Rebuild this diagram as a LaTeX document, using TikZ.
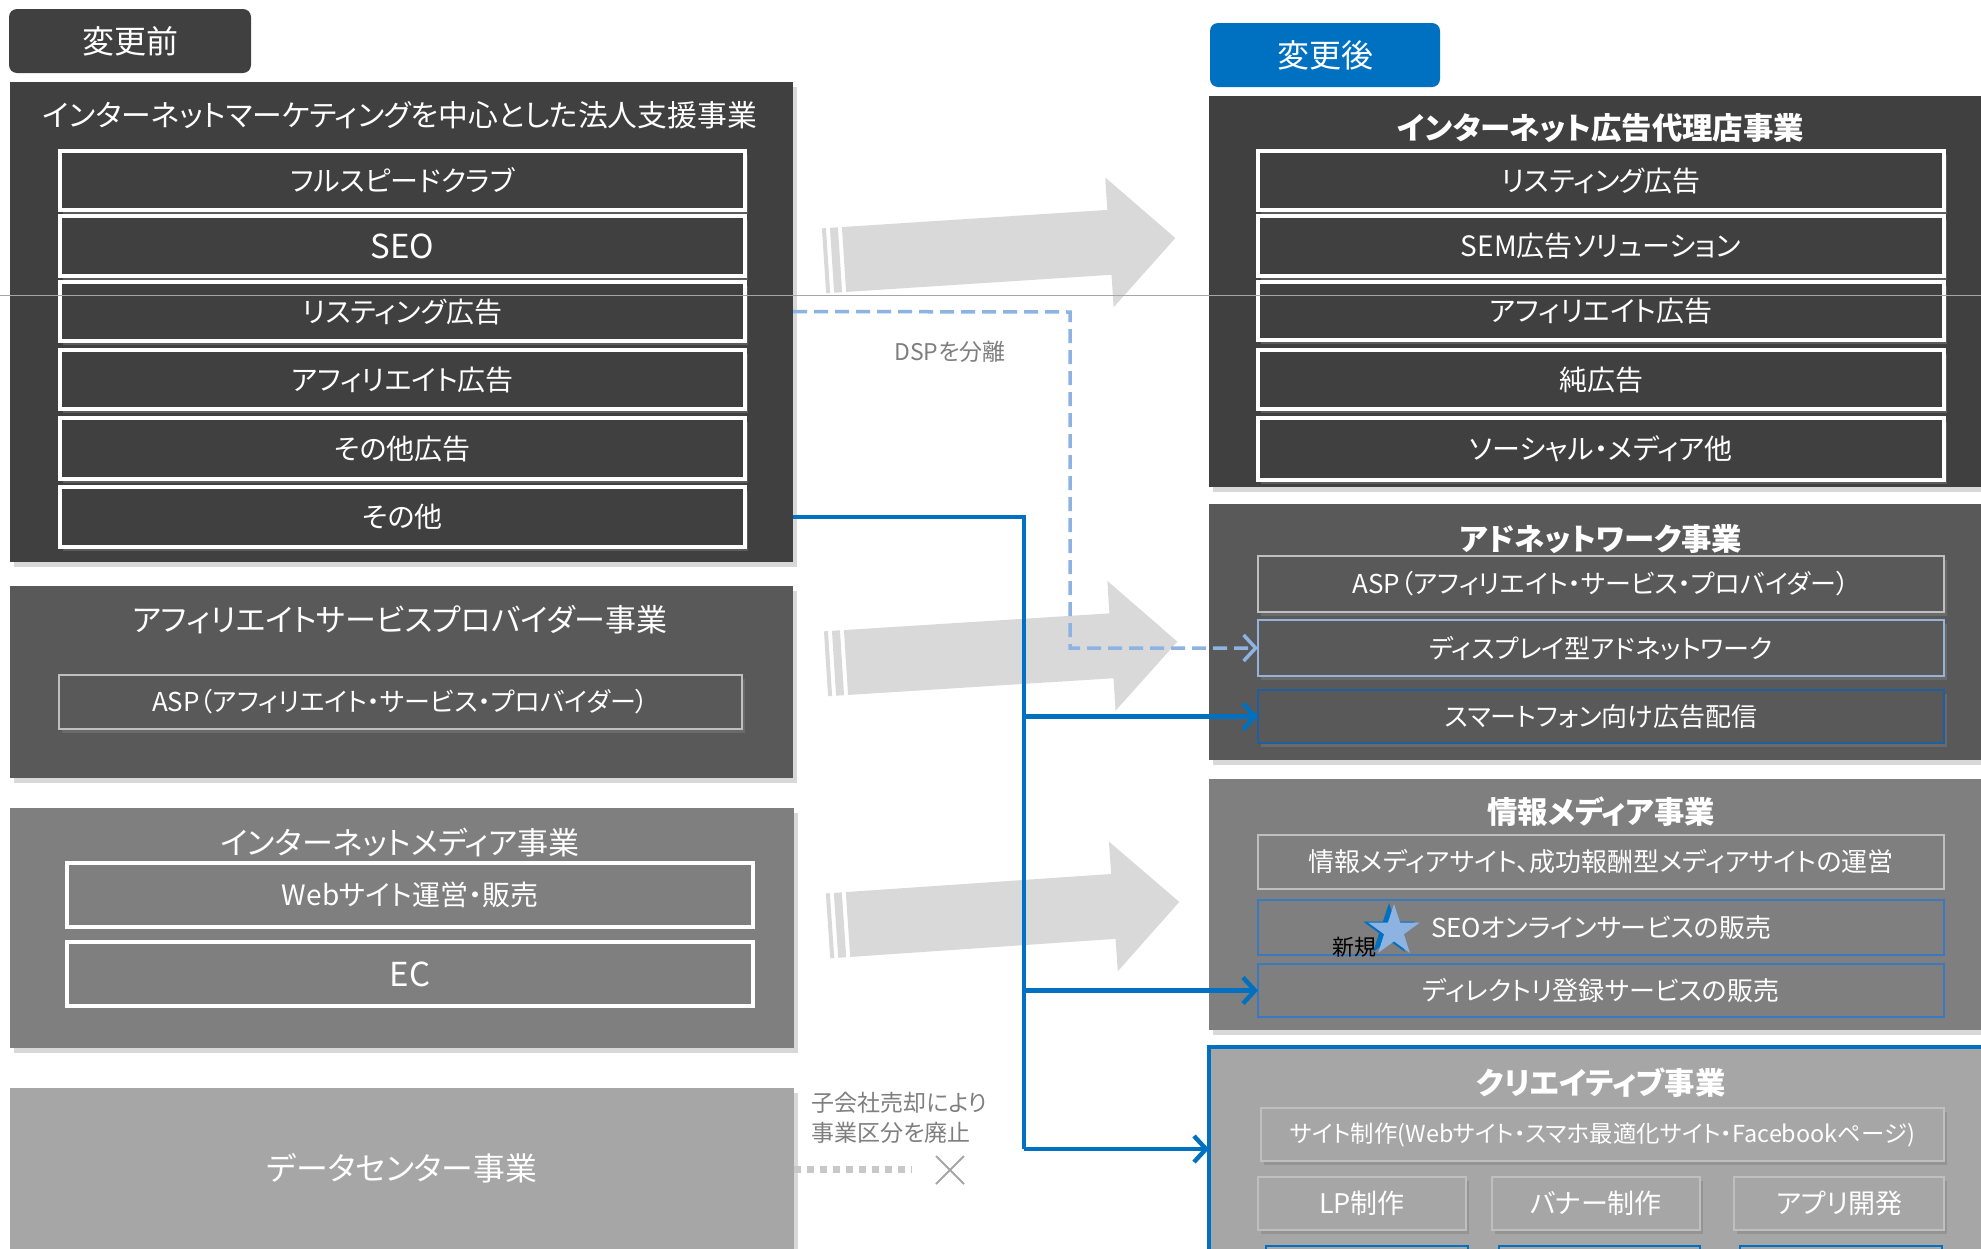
\documentclass[tikz,border=0pt]{standalone}
\usepackage{fontspec}
\setmainfont{Noto Sans CJK JP}[RawFeature={+palt}]
\usetikzlibrary{arrows.meta,shapes.geometric,shapes.misc,shadows,calc}
\definecolor{cfour}{HTML}{404040}
\definecolor{cfive}{HTML}{595959}
\definecolor{cseven}{HTML}{7F7F7F}
\definecolor{ca}{HTML}{A6A6A6}
\definecolor{carrow}{HTML}{D9D9D9}
\definecolor{cblue}{HTML}{0070C0}
\definecolor{clblue}{HTML}{8DB3E2}
\definecolor{cnote}{HTML}{7F7F7F}
\definecolor{cedge}{HTML}{BFBFBF}
\definecolor{cdisp}{HTML}{95B3D7}
\definecolor{csmart}{HTML}{1F5F9F}
\definecolor{cseo}{HTML}{3A78C0}
\definecolor{cdot}{HTML}{C8C8C8}
\newcommand\fsub{\fontsize{14}{16}\selectfont}
\newcommand\fsubs{\fontsize{13}{15}\selectfont}
\newcommand\ftitle{\fontsize{15.5}{18}\selectfont}
\newcommand\fbtitle{\fontsize{15.2}{18}\selectfont\bfseries}
\newcommand\fhead{\fontsize{16}{18}\selectfont}
\newcommand\fnote{\fontsize{11.5}{15}\selectfont}
\newcommand\flatinbox{\fontsize{16.5}{18}\selectfont}
\newcommand\mkbox[7]{%
  \pgfmathsetmacro\mkbw{(#4-#2)*0.5}%
  \pgfmathsetmacro\mkbh{(#5-#3)*0.5}%
  \node[#6, minimum width=\mkbw pt, minimum height=\mkbh pt] (#1) at ({(#2+#4)/2},{(#3+#5)/2}) {#7};}
\newcommand\bigarrow[3]{%
  \begin{scope}[shift={(#1,#2)}, rotate=#3]
    \fill[carrow] (0,-32.5) -- (266,-32.5) -- (266,-65) -- (332,0) -- (266,65) -- (266,32.5) -- (0,32.5) -- cycle;
    \fill[carrow] (-20,-32.5) rectangle (-16,32.5);
    \fill[carrow] (-12,-32.5) rectangle (-4,32.5);
  \end{scope}}
\tikzset{
  bigbox/.style={draw=none, fill=#1, inner sep=0pt, outer sep=0pt,
    drop shadow={shadow xshift=2pt, shadow yshift=-2.5pt, opacity=0.3}},
  wsub/.style={draw=white, line width=1.8pt, fill=#1, text=white, font=\fsub, inner sep=0pt, outer sep=0pt,
    drop shadow={shadow xshift=1.5pt, shadow yshift=-2pt, opacity=0.45}},
  gsub/.style 2 args={draw=#2, line width=0.8pt, fill=#1, text=white, font=\fsub, inner sep=0pt, outer sep=0pt,
    drop shadow={shadow xshift=1.5pt, shadow yshift=-2pt, opacity=0.45}},
  headbox/.style={fill=#1, rounded corners=4pt, text=white, font=\fhead, inner sep=0pt},
  ttl/.style={text=white, font=\ftitle, inner sep=0pt},
  bttl/.style={text=white, font=\fbtitle, inner sep=0pt},
  note/.style={text=cnote, font=\fnote, inner sep=0pt},
  dspline/.style={draw=clblue, line width=1.75pt, dash pattern=on 7pt off 3.5pt,
    -{Straight Barb[length=6pt,width=13pt,line width=1.75pt]}},
  blueline/.style={draw=cblue, line width=2.2pt},
  bluearrow/.style={draw=cblue, line width=2.2pt, -{Straight Barb[length=6pt,width=13pt]}},
  dcdash/.style={draw=cdot, line width=3.5pt, dash pattern=on 3.5pt off 3pt},
}
\begin{document}
\begin{tikzpicture}[x=0.5pt,y=-0.5pt]
\useasboundingbox (0,0) rectangle (1981,1248);
\clip (0,0) rectangle (1981,1248);
\fill[white] (0,0) rectangle (1981,1248);

% ---------- before ----------
\mkbox{before}{9}{9}{251}{73}{headbox=cfour}{変更前}
\mkbox{L1}{10}{82}{793}{562}{bigbox=cfour}{}
\node[ttl, font=\fontsize{14.9}{17}\selectfont] (L1t) at (400,115) {インターネットマーケティングを中心とした法人支援事業};
\mkbox{Lfull}{60}{151}{745}{210}{wsub=cfour}{フルスピードクラブ}
\mkbox{Lseo}{60}{216}{745}{276}{wsub=cfour, font=\flatinbox}{SEO}
\mkbox{Llist}{60}{282}{745}{341}{wsub=cfour}{リスティング広告}
\mkbox{Laff}{60}{350}{745}{409}{wsub=cfour}{アフィリエイト広告}
\mkbox{Lothad}{60}{418}{745}{479}{wsub=cfour}{その他広告}
\mkbox{Lother}{60}{487}{745}{547}{wsub=cfour}{その他}

\mkbox{L2}{10}{586}{793}{778}{bigbox=cfive}{}
\node[ttl] (L2t) at (400,620) {アフィリエイトサービスプロバイダー事業};
\mkbox{Lasp}{59}{675}{742}{729}{gsub={cfive}{cedge}, font=\fsubs}{ASP（アフィリエイト・サービス・プロバイダー）}

\mkbox{L3}{10}{808}{794}{1048}{bigbox=cseven}{}
\node[ttl] (L3t) at (400,843) {インターネットメディア事業};
\mkbox{Lweb}{67}{863}{753}{927}{wsub=cseven}{Webサイト運営・販売}
\mkbox{Lec}{67}{942}{753}{1006}{wsub=cseven, font=\flatinbox}{EC}

\mkbox{L4}{10}{1088}{794}{1270}{bigbox=ca}{}
\node[ttl, font=\fontsize{15.9}{19}\selectfont] (L4t) at (402,1168) {データセンター事業};

% ---------- big arrows ----------
\bigarrow{844}{259.5}{3.7}
\bigarrow{846}{662.5}{3.6}
\bigarrow{848}{924.5}{3.9}

% ---------- after ----------
\mkbox{after}{1210}{23}{1440}{87}{headbox=cblue}{変更後}
\mkbox{R1}{1209}{96}{2010}{487}{bigbox=cfour}{}
\node[bttl] (R1t) at (1601,128) {インターネット広告代理店事業};
\mkbox{Rlist}{1258}{151}{1944}{210}{wsub=cfour}{リスティング広告}
\mkbox{Rsem}{1258}{216}{1944}{276}{wsub=cfour}{SEM広告ソリューション}
\mkbox{Raff}{1258}{282}{1944}{340}{wsub=cfour}{アフィリエイト広告}
\mkbox{Rpure}{1258}{350}{1944}{409}{wsub=cfour}{純広告}
\mkbox{Rsoc}{1258}{418}{1944}{480}{wsub=cfour}{ソーシャル・メディア他}

\mkbox{R2}{1209}{504}{2010}{760}{bigbox=cfive}{}
\node[bttl] (R2t) at (1601,539) {アドネットワーク事業};
\mkbox{Rasp}{1258}{556}{1944}{612}{gsub={cfive}{cedge}, font=\fsubs}{ASP（アフィリエイト・サービス・プロバイダー）}
\mkbox{Rdisp}{1258}{620}{1944}{676}{gsub={cfive}{cdisp}, font=\fsubs}{ディスプレイ型アドネットワーク}
\mkbox{Rsmart}{1258}{690}{1944}{743}{gsub={cfive}{csmart}, font=\fsubs}{スマートフォン向け広告配信}

\mkbox{R3}{1209}{779}{2010}{1030}{bigbox=cseven}{}
\node[bttl] (R3t) at (1601,812) {情報メディア事業};
\mkbox{Rinfo}{1258}{835}{1944}{889}{gsub={cseven}{cedge}, font=\fsubs}{情報メディアサイト、成功報酬型メディアサイトの運営}
\mkbox{Rseo}{1258}{900}{1944}{955}{gsub={cseven}{cseo}, font=\fsubs}{SEOオンラインサービスの販売}
\mkbox{Rdir}{1258}{964}{1944}{1017}{gsub={cseven}{cseo}, font=\fsubs}{ディレクトリ登録サービスの販売}

\node[star, star points=5, star point ratio=2.6, fill=cblue, inner sep=0pt, minimum size=27pt] (stardk) at (1389,930) {};
\node[star, star points=5, star point ratio=2.6, fill=clblue, inner sep=0pt, minimum size=27pt] (star) at (1394,931) {};
\node[text=black, font=\fontsize{11}{13}\selectfont, inner sep=0pt] (shinki) at (1354,947) {新規};

\mkbox{R4}{1209}{1047}{2010}{1270}{bigbox=ca}{}
\draw[cblue, line width=2.2pt] (R4.south west) -- (R4.north west) -- (R4.north east);
\node[bttl] (R4t) at (1601,1083) {クリエイティブ事業};
\mkbox{Rsite}{1261}{1108}{1944}{1161}{gsub={ca}{cedge}, font=\fontsize{11.7}{14}\selectfont}{サイト制作(Webサイト・スマホ最適化サイト・Facebookページ)}
\mkbox{Rlp}{1258}{1177}{1466}{1230}{gsub={ca}{cedge}, font=\fontsize{13.5}{15}\selectfont}{LP制作}
\mkbox{Rban}{1492}{1177}{1700}{1230}{gsub={ca}{cedge}, font=\fontsize{13.5}{15}\selectfont}{バナー制作}
\mkbox{Rapp}{1734}{1177}{1944}{1230}{gsub={ca}{cedge}, font=\fontsize{13.5}{15}\selectfont}{アプリ開発}
\mkbox{Rp1}{1266}{1246}{1468}{1300}{gsub={ca}{cblue}}{}
\mkbox{Rp2}{1499}{1246}{1700}{1300}{gsub={ca}{cblue}}{}
\mkbox{Rp3}{1740}{1246}{1942}{1300}{gsub={ca}{cblue}}{}

% ---------- connectors ----------
\coordinate (dspturn) at (1070,312);
\draw[dspline] (Llist.east -| L1.east) -- (dspturn) |- (Rdisp.west);
\node[note] (dsp) at (950,352) {DSPを分離};

\coordinate (blueturn) at (1024,1149);
\draw[blueline] (Lother.east -| L1.east) -| (blueturn);
\draw[bluearrow] (blueturn) -- (blueturn -| R4.west);
\draw[bluearrow] (Rsmart.west -| blueturn) -- (Rsmart.west);
\draw[bluearrow] (Rdir.west -| blueturn) -- (Rdir.west);

\node[note, align=left, anchor=west] (sale) at (811,1118) {子会社売却により\\事業区分を廃止};
\coordinate (dcend) at (912,1169);
\draw[dcdash] (L4.east |- dcend) -- (dcend);
\node[draw=ca, cross out, line width=1pt, minimum size=13pt, inner sep=0pt] (xmark) at (950,1170) {};

\draw[line width=0.4pt, draw=gray!70] (0,295) -- (1981,295);
\end{tikzpicture}
\end{document}
